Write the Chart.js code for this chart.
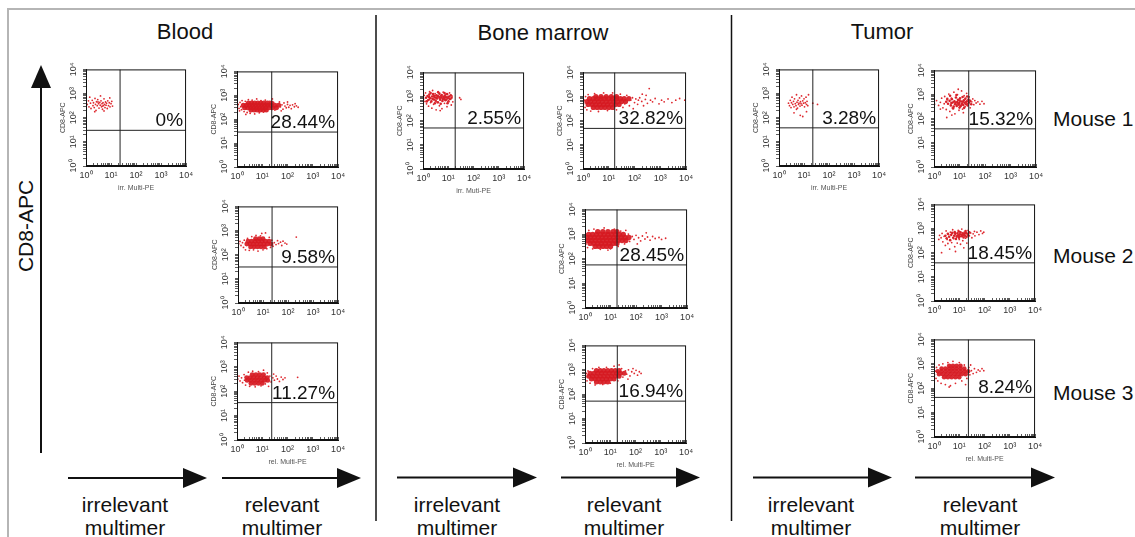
<!DOCTYPE html>
<html>
<head>
<meta charset="utf-8">
<script src="https://cdn.jsdelivr.net/npm/chart.js@4.4.1/dist/chart.umd.min.js"></script>
<style>
  body { margin: 0; background: #fff; }
  #fig { position: relative; width: 1135px; height: 537px; overflow: hidden; background: #fff;
         font-family: "Liberation Sans", Arial, Helvetica, sans-serif; color: #111; }
  #fig canvas { position: absolute; }
  .t { position: absolute; white-space: nowrap; line-height: 1; transform: translate(-50%, -50%); }
  .m { position: absolute; white-space: nowrap; line-height: 1; transform: translateY(-50%); font-size: 21px; }
  svg { position: absolute; left: 0; top: 0; }
</style>
</head>
<body>
<div id="fig">
  <svg width="1135" height="537">
    <path d="M8 537 V9 H1135" fill="none" stroke="#b5b5b5" stroke-width="2"/>
    <line x1="376" y1="15" x2="376" y2="521" stroke="#111" stroke-width="1.5"/>
    <line x1="731.5" y1="15" x2="731.5" y2="521" stroke="#111" stroke-width="1.5"/>
    <line x1="41" y1="453" x2="41" y2="86" stroke="#111" stroke-width="2"/>
    <polygon points="31,88 51,88 41,65" fill="#111"/>
    <g stroke="#111" stroke-width="2">
      <line x1="68" y1="478" x2="186" y2="478"/><line x1="222" y1="478" x2="340" y2="478"/>
      <line x1="397" y1="477.5" x2="515" y2="477.5"/><line x1="561" y1="477.5" x2="679" y2="477.5"/>
      <line x1="753" y1="477.5" x2="871" y2="477.5"/><line x1="915" y1="477.5" x2="1034" y2="477.5"/>
    </g>
    <g fill="#111">
      <polygon points="183,468 207,478 183,488"/><polygon points="337,468 361,478 337,488"/>
      <polygon points="513,467.5 537,477.5 513,487.5"/><polygon points="676,467.5 700,477.5 676,487.5"/>
      <polygon points="868,467.5 892,477.5 868,487.5"/><polygon points="1031,467.5 1055,477.5 1031,487.5"/>
    </g>
  </svg>
  <div class="t" style="left:185px;top:32px;font-size:22px">Blood</div>
  <div class="t" style="left:543px;top:33px;font-size:22px">Bone marrow</div>
  <div class="t" style="left:882px;top:32px;font-size:22px">Tumor</div>
  <div class="t" style="left:25px;top:226px;font-size:21px;transform:translate(-50%,-50%) rotate(-90deg)">CD8-APC</div>
  <div class="m" style="left:1053px;top:118px">Mouse 1</div>
  <div class="m" style="left:1053px;top:255px">Mouse 2</div>
  <div class="m" style="left:1053px;top:392px">Mouse 3</div>
  <div class="t" style="left:125px;top:504px;font-size:21px">irrelevant</div>
  <div class="t" style="left:125px;top:527px;font-size:21px">multimer</div>
  <div class="t" style="left:282px;top:504px;font-size:21px">relevant</div>
  <div class="t" style="left:282px;top:527px;font-size:21px">multimer</div>
  <div class="t" style="left:457px;top:504px;font-size:21px">irrelevant</div>
  <div class="t" style="left:457px;top:527px;font-size:21px">multimer</div>
  <div class="t" style="left:624px;top:504px;font-size:21px">relevant</div>
  <div class="t" style="left:624px;top:527px;font-size:21px">multimer</div>
  <div class="t" style="left:811px;top:504px;font-size:21px">irrelevant</div>
  <div class="t" style="left:811px;top:527px;font-size:21px">multimer</div>
  <div class="t" style="left:980px;top:504px;font-size:21px">relevant</div>
  <div class="t" style="left:980px;top:527px;font-size:21px">multimer</div>
</div>
<script>
// panels: blood irr, blood m1-m3, bone marrow irr, bm m1-m3, tumor irr, tumor m1-m3
const tickLabels = ['10⁰', '10¹', '10²', '10³', '10⁴'];
// tick marks of the log axes (decades + minor steps)
const logTicks = [1,2,3,4,5,6,7,8,9,10,20,30,40,50,60,70,80,90,100,200,300,400,500,600,700,800,900,1000,2000,3000,4000,5000,6000,7000,8000,9000,10000];
const percents = ['0%', '28.44%', '9.58%', '11.27%', '2.55%', '32.82%', '28.45%', '16.94%', '3.28%', '15.32%', '18.45%', '8.24%'];
const xTitles = ['irr. Multi-PE', '', '', 'rel. Multi-PE', 'irr. Muti-PE', '', '', 'rel. Multi-PE', 'irr. Multi-PE', '', '', 'rel. Multi-PE'];
// quadrant gates (fluorescence values)
const gateX = [23, 23.7, 23, 23.7, 18.8, 17, 18, 19, 22.5, 23, 23, 23];
const gateY = [30, 29, 31, 34, 50, 48, 56, 52, 38, 38, 38, 42];

// events, in decades (log10 of Multi-PE, log10 of CD8-APC)
// dense centres: [log10 y, log10 x ...] per row ; other events: [log10 x, log10 y]
const bloodIrrDots = [[0.05,2.55],[0.1,2.7],[0.12,2.45],[0.18,2.6],[0.2,2.38],[0.25,2.72],[0.28,2.5],[0.3,2.62],[0.33,2.42],[0.36,2.8],[0.38,2.55],[0.4,2.3],[0.42,2.66],[0.45,2.5],[0.47,2.75],[0.5,2.58],[0.52,2.4],[0.55,2.63],[0.57,2.52],[0.6,2.7],[0.62,2.45],[0.64,2.58],[0.66,2.35],[0.68,2.62],[0.7,2.5],[0.72,2.78],[0.74,2.55],[0.76,2.42],[0.78,2.65],[0.8,2.52],[0.82,2.6],[0.85,2.38],[0.87,2.7],[0.9,2.5],[0.93,2.62],[0.96,2.45],[1.0,2.58],[1.03,2.68],[1.06,2.48],[0.15,2.85],[0.58,2.9],[0.35,2.25],[0.72,2.28],[0.95,2.82],[0.48,2.65],[0.65,2.48]];

const bloodM1Core = [[2.38,0.55,0.68,0.8,0.92,1.04,1.16],[2.48,0.3,0.42,0.54,0.66,0.78,0.9,1.02,1.14,1.26,1.4,1.55],[2.58,0.25,0.37,0.5,0.62,0.74,0.86,0.98,1.1,1.22,1.35,1.5,1.65],[2.68,0.45,0.58,0.7,0.82,0.94,1.06,1.2,1.36]];
const bloodM1Dots = [[0.02,2.55],[0.05,2.62],[0.08,2.45],[0.12,2.7],[0.15,2.52],[0.18,2.4],[0.2,2.78],[0.24,2.62],[0.28,2.32],[0.33,2.75],[0.4,2.28],[0.45,2.82],[0.52,2.25],[0.6,2.8],[0.7,2.22],[0.78,2.85],[0.88,2.27],[0.95,2.78],[1.05,2.3],[1.12,2.8],[1.2,2.35],[1.28,2.75],[1.32,2.42],[1.45,2.7],[1.5,2.38],[1.58,2.62],[1.62,2.45],[1.68,2.72],[1.72,2.52],[1.78,2.6],[1.82,2.42],[1.86,2.68],[1.9,2.55],[1.95,2.48],[2.0,2.62],[2.05,2.5],[2.1,2.58],[2.15,2.44],[2.2,2.6],[2.27,2.52],[2.35,2.56],[2.42,2.5],[1.75,2.35],[2.0,2.72],[1.4,2.85],[0.35,2.2],[0.1,2.35],[2.3,2.65]];

const bloodM2Core = [[2.32,0.5,0.64,0.78,0.92,1.06],[2.44,0.35,0.48,0.62,0.76,0.9,1.04,1.18,1.32],[2.56,0.4,0.54,0.68,0.82,0.96,1.1,1.24],[2.66,0.7,0.85,1.0]];
const bloodM2Dots = [[0.03,2.45],[0.08,2.55],[0.12,2.38],[0.18,2.5],[0.22,2.3],[0.25,2.6],[0.3,2.2],[0.32,2.48],[0.38,2.68],[0.45,2.18],[0.55,2.75],[0.62,2.2],[0.72,2.8],[0.8,2.15],[0.9,2.78],[1.0,2.2],[1.1,2.9],[1.15,2.25],[1.25,2.72],[1.35,2.6],[1.4,2.35],[1.45,2.5],[1.52,2.42],[1.58,2.58],[1.62,2.46],[1.7,2.52],[1.75,2.38],[1.8,2.56],[1.88,2.48],[1.95,2.44],[2.33,2.73],[0.95,2.88],[1.3,2.3]];

const bloodM3Core = [[2.32,0.55,0.7,0.85,1.0],[2.44,0.4,0.54,0.68,0.82,0.96,1.1,1.22],[2.56,0.38,0.52,0.66,0.8,0.94,1.08,1.2],[2.68,0.6,0.75,0.9,1.05]];
const bloodM3Dots = [[0.03,2.5],[0.08,2.62],[0.12,2.42],[0.18,2.55],[0.22,2.35],[0.28,2.68],[0.3,2.45],[0.34,2.25],[0.45,2.78],[0.5,2.2],[0.62,2.82],[0.72,2.18],[0.85,2.8],[0.95,2.22],[1.05,2.86],[1.12,2.3],[1.2,2.75],[1.3,2.62],[1.35,2.38],[1.42,2.55],[1.48,2.45],[1.55,2.62],[1.6,2.5],[1.68,2.4],[1.75,2.58],[1.82,2.48],[1.9,2.55],[2.4,2.57],[1.45,2.7],[1.25,2.2]];

const bmIrrMid = [[0.12,2.95],[0.18,3.02],[0.21,2.86],[0.25,3.08],[0.29,2.93],[0.33,2.8],[0.36,3.0],[0.4,3.1],[0.43,2.88],[0.46,2.97],[0.5,2.83],[0.53,3.05],[0.56,2.92],[0.59,2.76],[0.62,3.0],[0.65,3.12],[0.68,2.87],[0.71,2.95],[0.74,3.06],[0.77,2.82],[0.8,2.98],[0.83,2.9],[0.86,3.04],[0.89,2.85],[0.92,2.97],[0.95,3.1],[0.98,2.92],[1.01,2.8],[1.04,3.0],[1.07,2.9],[1.1,3.05],[1.13,2.95],[0.3,3.15],[0.47,2.72],[0.6,3.18],[0.7,2.7],[0.85,3.15],[0.97,2.72],[0.15,2.8],[0.38,2.9],[0.52,2.95],[0.66,2.95],[0.79,2.9],[0.91,2.88],[1.0,2.98],[0.44,3.02],[0.58,3.02],[0.72,3.02],[0.87,2.97],[0.24,2.98]];
const bmIrrDots = [[0.02,2.9],[0.05,3.05],[0.08,2.8],[0.1,3.15],[0.14,2.7],[0.2,3.0],[0.22,2.6],[0.26,3.2],[0.3,2.75],[0.35,2.52],[0.38,3.25],[0.42,2.68],[0.48,3.12],[0.52,2.45],[0.55,2.78],[0.6,3.2],[0.65,2.62],[0.7,3.0],[0.75,2.5],[0.8,3.18],[0.85,2.72],[0.9,3.1],[0.95,2.58],[1.0,2.8],[1.05,3.15],[1.1,2.9],[1.15,3.02],[1.18,2.78],[1.12,2.65],[1.45,2.95],[1.5,2.88],[0.68,2.42],[0.25,2.88],[0.58,2.95]];

const bmM1Core = [[2.55,0.4,0.55,0.7,0.85,1.0,1.15],[2.67,0.2,0.35,0.5,0.65,0.8,0.95,1.1,1.25,1.4],[2.79,0.15,0.3,0.45,0.6,0.75,0.9,1.05,1.2,1.35,1.5,1.65],[2.91,0.25,0.4,0.55,0.7,0.85,1.0,1.15,1.3,1.45,1.6,1.78],[3.0,0.5,0.7,0.9,1.1,1.3]];
const bmM1Dots = [[0.02,2.7],[0.05,2.85],[0.08,2.55],[0.1,3.0],[0.15,2.45],[0.2,3.08],[0.3,2.4],[0.45,3.12],[0.6,2.38],[0.8,3.15],[0.95,2.42],[1.15,3.15],[1.3,2.45],[1.45,3.1],[1.55,2.55],[1.7,3.05],[1.8,2.62],[1.85,2.85],[1.92,2.95],[2.0,2.75],[2.05,2.9],[2.12,2.68],[2.2,2.95],[2.28,2.8],[2.35,2.62],[2.42,2.88],[2.5,2.72],[2.57,3.33],[2.62,2.85],[2.7,2.78],[2.8,2.92],[2.95,2.7],[3.05,2.85],[3.15,2.78],[3.3,2.9],[3.45,2.75],[3.6,2.85],[3.75,2.92],[3.95,2.85],[2.3,3.1],[1.95,2.5],[2.15,2.85],[1.75,2.9],[1.62,2.7],[2.45,3.05]];

const bmM2Core = [[2.5,0.4,0.55,0.7,0.85,1.0],[2.62,0.2,0.35,0.5,0.65,0.8,0.95,1.1,1.25],[2.74,0.1,0.25,0.4,0.55,0.7,0.85,1.0,1.15,1.3,1.45,1.6],[2.86,0.08,0.22,0.37,0.52,0.67,0.82,0.97,1.12,1.27,1.42,1.57,1.72],[2.98,0.15,0.3,0.45,0.6,0.75,0.9,1.05,1.2,1.35,1.5],[3.1,0.5,0.7,0.9,1.1,1.25]];
const bmM2Dots = [[0.02,2.8],[0.04,2.6],[0.05,3.0],[0.1,2.45],[0.15,3.15],[0.3,2.4],[0.35,3.2],[0.6,2.38],[0.75,3.25],[1.0,2.4],[1.15,3.2],[1.3,2.5],[1.4,3.12],[1.55,2.6],[1.7,3.0],[1.75,2.7],[1.85,2.9],[1.92,2.78],[2.0,2.95],[2.1,2.85],[2.18,2.72],[2.25,2.92],[2.35,2.8],[2.45,2.88],[2.55,2.75],[2.65,2.9],[2.75,2.82],[2.9,2.86],[3.0,2.78],[3.16,2.83],[2.4,3.05],[2.05,2.6],[1.6,3.15],[0.9,2.35]];

const bmM3Core = [[2.5,0.45,0.6,0.75,0.9],[2.62,0.25,0.4,0.55,0.7,0.85,1.0,1.15],[2.74,0.15,0.3,0.45,0.6,0.75,0.9,1.05,1.2,1.35],[2.86,0.2,0.35,0.5,0.65,0.8,0.95,1.1,1.25,1.4,1.55],[2.97,0.45,0.6,0.75,0.9,1.05,1.2,1.35]];
const bmM3Dots = [[0.02,2.7],[0.05,2.85],[0.08,2.55],[0.12,2.95],[0.2,2.45],[0.3,3.05],[0.4,2.38],[0.55,3.1],[0.7,2.4],[0.85,3.1],[1.0,2.45],[1.15,3.15],[1.3,2.55],[1.45,3.05],[1.5,2.7],[1.6,2.95],[1.65,2.82],[1.72,3.0],[1.78,2.75],[1.85,2.92],[1.9,3.05],[1.95,2.85],[2.02,2.98],[2.08,2.78],[2.15,2.92],[2.22,2.85],[1.35,3.2],[1.7,2.62]];

const tumorIrrDots = [[0.0,2.17],[0.38,2.6],[0.42,2.5],[0.45,2.72],[0.48,2.42],[0.5,2.62],[0.52,2.85],[0.55,2.55],[0.58,2.68],[0.6,2.45],[0.62,2.78],[0.65,2.58],[0.68,2.5],[0.7,2.95],[0.72,2.64],[0.74,2.4],[0.76,2.72],[0.78,2.55],[0.8,2.6],[0.82,2.82],[0.84,2.48],[0.86,2.66],[0.88,2.58],[0.9,2.9],[0.92,2.52],[0.95,2.7],[0.98,2.6],[1.0,2.78],[1.02,2.45],[1.05,2.62],[1.08,2.85],[1.1,2.55],[1.12,2.68],[1.15,2.5],[1.18,2.95],[0.85,2.1],[0.95,2.05],[0.6,2.2],[1.1,2.25],[1.54,2.55],[1.35,2.6],[0.7,2.35]];

const tumorM1Mid = [[0.55,2.62],[0.61,2.74],[0.66,2.55],[0.7,2.81],[0.73,2.67],[0.77,2.5],[0.8,2.72],[0.83,2.6],[0.86,2.88],[0.89,2.53],[0.91,2.69],[0.94,2.78],[0.97,2.58],[0.99,2.65],[1.02,2.84],[1.04,2.52],[1.07,2.71],[1.1,2.62],[1.12,2.9],[1.15,2.57],[1.17,2.76],[1.2,2.66],[1.23,2.83],[1.26,2.6],[1.29,2.72],[1.32,2.55],[1.35,2.79],[1.38,2.67],[1.42,2.74],[1.46,2.6],[0.63,2.95],[0.75,2.42],[0.88,2.98],[1.0,2.46],[1.18,2.45],[1.3,2.92],[0.48,2.7],[0.52,2.82],[0.95,2.62],[1.08,2.58],[1.13,2.7],[0.84,2.66],[1.25,2.68],[0.68,2.65],[1.0,2.75]];
const tumorM1Dots = [[0.02,2.6],[0.1,2.75],[0.18,2.55],[0.25,2.68],[0.3,2.85],[0.35,2.45],[0.4,2.62],[0.42,2.92],[0.48,2.38],[0.52,2.78],[0.58,3.02],[0.62,2.3],[0.68,2.85],[0.72,2.45],[0.78,3.1],[0.82,2.2],[0.88,2.6],[0.92,3.0],[0.98,2.35],[1.02,2.72],[1.08,3.15],[1.12,2.4],[1.18,2.95],[1.22,2.5],[1.28,3.05],[1.32,2.62],[1.38,2.9],[1.42,2.45],[1.48,2.7],[1.52,2.82],[1.56,2.58],[1.6,2.75],[1.65,2.65],[1.72,2.7],[1.8,2.6],[1.88,2.72],[1.96,2.62],[0.5,2.05],[0.7,2.15],[0.95,3.22],[1.15,2.25],[0.25,2.4]];

const tumorM2Mid = [[0.45,2.7],[0.5,2.6],[0.55,2.78],[0.6,2.66],[0.64,2.52],[0.68,2.74],[0.72,2.82],[0.76,2.62],[0.8,2.7],[0.84,2.78],[0.87,2.57],[0.9,2.66],[0.93,2.8],[0.96,2.72],[0.99,2.62],[1.02,2.76],[1.05,2.84],[1.08,2.68],[1.11,2.74],[1.14,2.8],[1.17,2.63],[1.2,2.77],[1.23,2.7],[1.26,2.82],[1.29,2.66],[1.32,2.78],[1.36,2.72],[1.4,2.84],[1.0,2.68],[1.12,2.7],[1.18,2.72],[0.82,2.85],[0.98,2.88],[1.25,2.9]];
const tumorM2Dots = [[0.19,2.55],[0.22,2.72],[0.28,2.62],[0.32,2.8],[0.35,2.45],[0.4,2.68],[0.45,2.3],[0.48,2.9],[0.52,2.55],[0.58,2.75],[0.62,2.15],[0.65,2.85],[0.7,2.42],[0.74,2.95],[0.78,2.58],[0.82,2.25],[0.88,2.7],[0.92,2.4],[0.96,2.92],[1.0,2.55],[1.05,2.35],[1.1,2.98],[1.14,2.5],[1.2,2.85],[1.25,2.6],[1.3,2.4],[1.35,2.92],[1.4,2.7],[1.45,2.82],[1.5,2.62],[1.55,2.78],[1.62,2.7],[1.7,2.85],[1.78,2.75],[1.85,2.9],[1.92,2.8],[1.97,2.85],[0.3,2.0],[0.85,2.05],[0.55,2.38],[1.18,2.2],[1.6,2.88]];

const tumorM3Core = [[2.45,0.4,0.55,0.7,0.85,1.0],[2.57,0.2,0.35,0.5,0.65,0.8,0.95,1.1,1.25],[2.69,0.15,0.3,0.45,0.6,0.75,0.9,1.05,1.2,1.35],[2.81,0.3,0.45,0.6,0.75,0.9,1.05,1.2],[2.92,0.6,0.75,0.9,1.05]];
const tumorM3Dots = [[0.02,2.55],[0.05,2.7],[0.08,2.4],[0.1,2.85],[0.15,2.3],[0.2,2.95],[0.28,2.2],[0.35,3.0],[0.45,2.15],[0.55,3.05],[0.65,2.1],[0.75,3.1],[0.85,2.2],[1.0,3.05],[1.1,2.3],[1.2,2.95],[1.3,2.4],[1.38,2.85],[1.42,2.55],[1.48,2.72],[1.55,2.6],[1.6,2.8],[1.68,2.65],[1.75,2.75],[1.82,2.7],[1.9,2.8],[1.97,2.72],[1.45,2.95],[1.25,2.15],[0.6,2.05]];

const coreSets = [[], bloodM1Core, bloodM2Core, bloodM3Core, [], bmM1Core, bmM2Core, bmM3Core, [], [], [], tumorM3Core];
const midSets = [[], [], [], [], bmIrrMid, [], [], [], [], tumorM1Mid, tumorM2Mid, []];
const dotSets = [bloodIrrDots, bloodM1Dots, bloodM2Dots, bloodM3Dots, bmIrrDots, bmM1Dots, bmM2Dots, bmM3Dots, tumorIrrDots, tumorM1Dots, tumorM2Dots, tumorM3Dots];

// layout: plot box [left, top, width, height] in page px, and dot size of the dense part
const boxes = [
  [86, 69, 106, 97], [237, 71, 107, 96], [238, 206, 106, 97], [237, 342, 107, 98],
  [423, 72, 107, 97], [583, 72, 109, 97], [585, 209, 108, 99], [585, 345, 107, 98],
  [779, 69, 106, 97], [934, 70, 108, 97], [934, 204, 107, 97], [934, 339, 107, 98]
];
const coreRadius = [0, 2.5, 2.4, 2.4, 0, 2.6, 2.7, 2.5, 0, 0, 0, 2.3];
const RED = '#de2a30';

const fromRows = rows => rows.flatMap(([y, ...xs]) => xs.map(x => ({ x: 10 ** x, y: 10 ** y })));
const fromPairs = pairs => pairs.map(([x, y]) => ({ x: 10 ** x, y: 10 ** y }));
const decadeLabel = v => {
  const e = Math.round(Math.log10(v));
  return Math.abs(Math.log10(v) - e) < 1e-6 ? tickLabels[e] : '';
};
const setLogTicks = axis => { axis.ticks = logTicks.map(v => ({ value: v })); };

//box round the plot + percentage in the upper right quadrant
const boxPlugin = {
  id: 'quad',
  afterDatasetsDraw(chart, args, opts) {
    const { ctx, chartArea: a } = chart;
    ctx.save();
    ctx.strokeStyle = '#111';
    ctx.lineWidth = 1;
    ctx.strokeRect(a.left + 0.5, a.top + 0.5, a.width - 1, a.height - 1);
    ctx.fillStyle = '#111';
    ctx.font = '19px "Liberation Sans", Arial, sans-serif';
    ctx.textAlign = 'right';
    ctx.textBaseline = 'alphabetic';
    ctx.fillText(opts.text, a.right - 3, chart.scales.y.getPixelForValue(opts.gy) - 4);
    ctx.restore();
  }
};

const fig = document.getElementById('fig');
boxes.forEach((b, i) => {
  const [L, T, W, H] = b;
  const cv = document.createElement('canvas');
  const cw = W + 38, ch = H + 36;
  cv.width = cw; cv.height = ch;
  cv.style.left = (L - 30) + 'px';
  cv.style.top = (T - 8) + 'px';
  cv.style.width = cw + 'px';
  cv.style.height = ch + 'px';
  fig.appendChild(cv);

  new Chart(cv, {
    type: 'scatter',
    data: {
      datasets: [
        { data: [{ x: gateX[i], y: 1 }, { x: gateX[i], y: 1e4 }], showLine: true, borderColor: '#222', borderWidth: 1, pointRadius: 0 },
        { data: [{ x: 1, y: gateY[i] }, { x: 1e4, y: gateY[i] }], showLine: true, borderColor: '#222', borderWidth: 1, pointRadius: 0 },
        { data: fromPairs(dotSets[i]), pointRadius: 0.9, pointBorderWidth: 0, backgroundColor: RED },
        { data: fromPairs(midSets[i]), pointRadius: 1.3, pointBorderWidth: 0, backgroundColor: '#d8222a' },
        { data: fromRows(coreSets[i]), pointRadius: coreRadius[i], pointBorderWidth: 0, backgroundColor: 'rgba(214,26,34,0.92)' }
      ]
    },
    options: {
      responsive: false,
      animation: false,
      events: [],
      layout: { padding: { top: 8, right: 8, left: 0, bottom: 0 } },
      plugins: {
        legend: { display: false },
        tooltip: { enabled: false },
        quad: { text: percents[i], gy: gateY[i] }
      },
      scales: {
        x: {
          type: 'logarithmic', min: 1, max: 1e4,
          afterBuildTicks: setLogTicks,
          afterFit: s => { s.height = 28; },
          border: { display: true, color: '#111', width: 1 },
          // ticks point into the plot, like the cytometer export
          grid: { drawOnChartArea: false, drawTicks: true, tickLength: -3, color: '#333', tickWidth: 0.8 },
          ticks: { autoSkip: false, maxRotation: 0, minRotation: 0, padding: 7, color: '#333', font: { size: 9 }, callback: decadeLabel },
          title: { display: xTitles[i] !== '', text: xTitles[i], color: '#555', font: { size: 7 }, padding: { top: 0, bottom: 2 } }
        },
        y: {
          type: 'logarithmic', min: 1, max: 1e4,
          afterBuildTicks: setLogTicks,
          afterFit: s => { s.width = 30; },
          border: { display: true, color: '#111', width: 1 },
          grid: { drawOnChartArea: false, drawTicks: true, tickLength: 3, color: '#333', tickWidth: 0.8 },
          ticks: { autoSkip: false, minRotation: 90, maxRotation: 90, crossAlign: 'center', padding: 3, color: '#333', font: { size: 9 }, callback: decadeLabel },
          title: { display: true, text: 'CD8-APC', color: '#444', font: { size: 7 }, padding: { top: 3, bottom: 0 } }
        }
      }
    },
    plugins: [boxPlugin]
  });
});
</script>
</body>
</html>
